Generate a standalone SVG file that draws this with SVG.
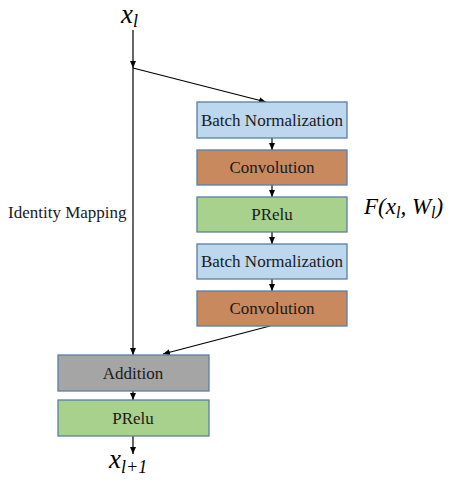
<svg xmlns="http://www.w3.org/2000/svg" width="463" height="493" viewBox="0 0 463 493">
<defs>
<marker id="ah" markerWidth="8" markerHeight="8" refX="7" refY="4" orient="auto" markerUnits="userSpaceOnUse">
<path d="M0,1 L7,4 L0,7 Z" fill="#000"/>
</marker>
<style>
.box{stroke:#5a7ea6;stroke-width:1.3}
.bn{fill:#bdd7ee}
.conv{fill:#c8895f}
.pr{fill:#a9d18e}
.add{fill:#a5a5a5}
.lbl{font-family:"Liberation Serif",serif;font-size:17px;fill:#1a1a1a;text-anchor:middle}
.math{font-family:"Liberation Serif",serif;font-style:italic;fill:#000}
.ln{stroke:#000;stroke-width:1.2;fill:none}
</style>
</defs>
<rect width="463" height="493" fill="#fff"/>
<g id="connectors">
<line class="ln" x1="133" y1="30" x2="133" y2="68" marker-end="url(#ah)"/>
<line class="ln" x1="133" y1="68" x2="133" y2="355" marker-end="url(#ah)"/>
<line class="ln" x1="133" y1="68" x2="266" y2="102" marker-end="url(#ah)"/>
<line class="ln" x1="272" y1="138" x2="272" y2="150" marker-end="url(#ah)"/>
<line class="ln" x1="272" y1="185" x2="272" y2="197" marker-end="url(#ah)"/>
<line class="ln" x1="272" y1="232" x2="272" y2="244" marker-end="url(#ah)"/>
<line class="ln" x1="272" y1="279" x2="272" y2="291" marker-end="url(#ah)"/>
<line class="ln" x1="270" y1="326" x2="163" y2="354" marker-end="url(#ah)"/>
<line class="ln" x1="133" y1="391" x2="133" y2="400" marker-end="url(#ah)"/>
<line class="ln" x1="133" y1="436" x2="133" y2="454" marker-end="url(#ah)"/>
</g>
<g id="x_l"><text class="math" x="121" y="23" font-size="27">x<tspan font-size="18" dy="4">l</tspan></text></g>
<g id="bn1"><rect class="box bn" x="197" y="102" width="150" height="36"/><text class="lbl" x="272" y="126">Batch Normalization</text></g>
<g id="conv1"><rect class="box conv" x="197" y="150" width="150" height="35"/><text class="lbl" x="272" y="173">Convolution</text></g>
<g id="prelu1"><rect class="box pr" x="197" y="197" width="150" height="35"/><text class="lbl" x="272" y="220">PRelu</text></g>
<g id="bn2"><rect class="box bn" x="197" y="244" width="150" height="35"/><text class="lbl" x="272" y="267">Batch Normalization</text></g>
<g id="conv2"><rect class="box conv" x="197" y="291" width="150" height="35"/><text class="lbl" x="272" y="314">Convolution</text></g>
<g id="addition"><rect class="box add" x="58" y="355" width="151" height="36"/><text class="lbl" x="133" y="379">Addition</text></g>
<g id="prelu2"><rect class="box pr" x="58" y="400" width="151" height="36"/><text class="lbl" x="133" y="424">PRelu</text></g>
<g id="x_l1"><text class="math" x="109" y="468" font-size="27">x<tspan font-size="18" dy="5">l+1</tspan></text></g>
<g id="identity"><text x="8" y="218" font-family="'Liberation Serif',serif" font-size="17" fill="#1a1a1a">Identity Mapping</text></g>
<g id="F"><text class="math" x="364" y="214" font-size="23">F(x<tspan font-size="16" dy="4">l</tspan><tspan dy="-4">, W</tspan><tspan font-size="16" dy="4">l</tspan><tspan dy="-4">)</tspan></text></g>
</svg>
